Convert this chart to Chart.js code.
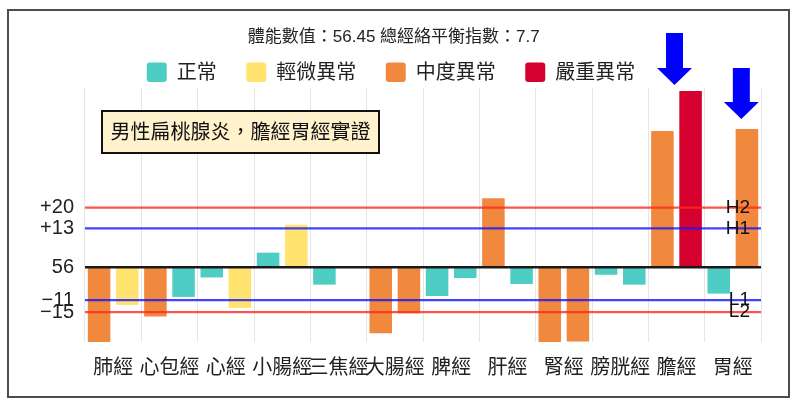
<!DOCTYPE html>
<html>
<head>
<meta charset="utf-8">
<script src="https://cdn.jsdelivr.net/npm/chart.js@4.4.1/dist/chart.umd.min.js"></script>
<style>
  body { margin: 0; background: #fff; }
  #box { position: absolute; left: 7px; top: 9px; width: 779px; height: 385px; border: 2px solid #4d4d4d; }
  canvas { display: block; }
</style>
</head>
<body>
<div id="box"><canvas id="meridianChart" width="779" height="385"></canvas></div>
<script>
const categories = ['肺經', '心包經', '心經', '小腸經', '三焦經', '大腸經', '脾經', '肝經', '腎經', '膀胱經', '膽經', '胃經'];
const leftValues = [-25.5, -16.5, -3.4, 4.9, -5.8, -22.1, -9.6, 23.1, -25.5, -2.5, 45.6, -8.8];
const rightValues = [-12.6, -9.9, -13.6, 14.2, 0, -15.4, -3.6, -5.6, -24.8, -5.8, 59, 46.3];
// 0 正常, 1 輕微異常, 2 中度異常, 3 嚴重異常
const leftLevels = [2, 2, 0, 0, 0, 2, 0, 2, 2, 0, 2, 0];
const rightLevels = [1, 0, 1, 1, 0, 2, 0, 0, 2, 0, 3, 2];
const levelNames = ['正常', '輕微異常', '中度異常', '嚴重異常'];
const levelColors = ['#4ecdc4', '#ffe36e', '#f0883e', '#d6002f'];
const tickValues = [20, 13, 0, -11, -15];
const tickLabels = ['+20', '+13', '56', '−11', '−15'];
const refValues = [20, 13, -11, -15];
const refNames = ['H2', 'H1', 'L1', 'L2'];
const titleText = '體能數值：56.45 總經絡平衡指數：7.7';
const noteText = '男性扁桃腺炎，膽經胃經實證';
const arrowCats = [10, 11];

const FONT = "'Liberation Sans', 'Noto Sans CJK TC', sans-serif";
Chart.defaults.font.family = FONT;
Chart.defaults.color = '#222';

// horizontal reference lines + H/L labels
const refLinesPlugin = {
  id: 'refLines',
  afterDatasetsDraw(chart) {
    const { ctx, chartArea: a, scales: { y } } = chart;
    const colors = ['rgba(255,40,30,0.8)', 'rgba(20,20,255,0.8)', 'rgba(20,20,255,0.8)', 'rgba(255,40,30,0.8)'];
    ctx.save();
    refValues.forEach((v, i) => {
      const py = y.getPixelForValue(v);
      ctx.strokeStyle = colors[i];
      ctx.lineWidth = 2.2;
      ctx.beginPath();
      ctx.moveTo(a.left, py);
      ctx.lineTo(a.right, py);
      ctx.stroke();
    });
    const y0 = y.getPixelForValue(0);
    ctx.strokeStyle = '#1a1a1a';
    ctx.lineWidth = 2.5;
    ctx.beginPath();
    ctx.moveTo(a.left, y0);
    ctx.lineTo(a.right, y0);
    ctx.stroke();

    ctx.font = '19px ' + FONT;
    ctx.fillStyle = '#111';
    ctx.textAlign = 'right';
    ctx.textBaseline = 'middle';
    refValues.forEach((v, i) => {
      ctx.fillText(refNames[i], a.right - 11, y.getPixelForValue(v));
    });
    ctx.restore();
  }
};

// note box, arrows and the level legend
const extrasPlugin = {
  id: 'extras',
  afterDraw(chart) {
    const { ctx, chartArea: a, scales: { x } } = chart;
    ctx.save();

    // note box
    const bx = a.left + 17, by = a.top + 23, bw = 277, bh = 42;
    ctx.fillStyle = '#fff2cc';
    ctx.fillRect(bx, by, bw, bh);
    ctx.strokeStyle = '#111';
    ctx.lineWidth = 2;
    ctx.strokeRect(bx, by, bw, bh);
    ctx.font = '20px ' + FONT;
    ctx.fillStyle = '#111';
    ctx.textAlign = 'center';
    ctx.textBaseline = 'middle';
    ctx.fillText(noteText, bx + bw / 2, by + bh / 2 + 1);

    // arrows
    const dx = [-2, 8.5], tipDy = [-3, 31], len = [52, 51];
    ctx.fillStyle = '#0000ff';
    arrowCats.forEach((c, i) => {
      const cx = x.getPixelForValue(c) + dx[i];
      const tip = a.top + tipDy[i];
      const top = tip - len[i], base = tip - 17;
      ctx.beginPath();
      ctx.moveTo(cx - 8.5, top);
      ctx.lineTo(cx + 8.5, top);
      ctx.lineTo(cx + 8.5, base);
      ctx.lineTo(cx + 17.5, base);
      ctx.lineTo(cx, tip);
      ctx.lineTo(cx - 17.5, base);
      ctx.lineTo(cx - 8.5, base);
      ctx.closePath();
      ctx.fill();
    });

    // legend
    ctx.font = '20px ' + FONT;
    ctx.textAlign = 'left';
    const gap = 29.5, box = 20;
    const widths = levelNames.map(t => box + 10 + ctx.measureText(t).width);
    const total = widths.reduce((s, w) => s + w, 0) + gap * (widths.length - 1);
    let lx = 382 - total / 2;
    const cy = 61.5;
    levelNames.forEach((name, i) => {
      ctx.fillStyle = levelColors[i];
      ctx.beginPath();
      ctx.roundRect(lx, cy - 10, box, 19.5, 3);
      ctx.fill();
      ctx.fillStyle = '#222';
      ctx.fillText(name, lx + box + 10, cy + 1);
      lx += widths[i] + gap;
    });
    ctx.restore();
  }
};

const ctx = document.getElementById('meridianChart');

new Chart(ctx, {
  type: 'bar',
  data: {
    labels: categories,
    datasets: [{
      label: 'left',
      data: leftValues,
      backgroundColor: leftLevels.map(l => levelColors[l]),
      barPercentage: 0.8,
      categoryPercentage: 1.0
    }, {
      label: 'right',
      data: rightValues,
      backgroundColor: rightLevels.map(l => levelColors[l]),
      barPercentage: 0.8,
      categoryPercentage: 1.0
    }]
  },
  options: {
    responsive: false,
    animation: false,
    layout: { padding: { left: 17.5, right: 27, top: 0, bottom: 0 } },
    plugins: {
      legend: { display: false },
      tooltip: { enabled: false },
      title: {
        display: true,
        text: titleText,
        color: '#222',
        font: { size: 17, weight: 'normal' },
        padding: { top: 15.8, bottom: 40.8 }
      }
    },
    scales: {
      x: {
        grid: { display: true, drawTicks: false, color: 'rgba(0,0,0,0.1)' },
        border: { display: false },
        afterFit(scale) { scale.height = 54; },
        ticks: { font: { size: 20 }, color: '#222', padding: 14.5, maxRotation: 0, minRotation: 0, autoSkip: false }
      },
      y: {
        min: -25,
        max: 60,
        grid: { display: false },
        border: { display: false },
        afterFit(scale) { scale.width = 58.5; },
        afterBuildTicks(scale) { scale.ticks = tickValues.map(v => ({ value: v })); },
        ticks: {
          autoSkip: false,
          font: { size: 20 },
          color: '#222',
          callback: (v) => tickLabels[tickValues.indexOf(v)]
        }
      }
    }
  },
  plugins: [refLinesPlugin, extrasPlugin]
});
</script>
</body>
</html>
